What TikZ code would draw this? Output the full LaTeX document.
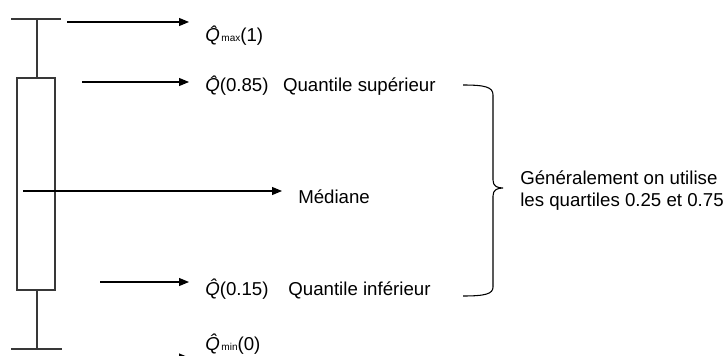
\documentclass[tikz,border=0pt]{standalone}
\usepackage{fontspec}
\setmainfont{Liberation Sans}
\usetikzlibrary{arrows.meta}

\newcommand{\qhat}{{\itshape\accent"02C6 Q}}
\newcommand{\smallsub}[1]{{\fontsize{7.5}{8}\selectfont\,#1}}

\begin{document}
\begin{tikzpicture}[x=0.75pt,y=-0.75pt]
\tikzset{
  boxline/.style={draw=black!78,line width=1.7pt},
  pointer/.style={draw=black,line width=0.8pt,shorten >=12pt,-{Triangle[length=7.5pt,width=6pt]}},
  quantlabel/.style={anchor=base west,inner sep=0pt,font=\fontsize{14}{16}\selectfont},
  bracetext/.style={anchor=base west,inner sep=0pt,align=left,font=\fontsize{14}{16}\selectfont}
}
\useasboundingbox (0,0) rectangle (723,356);
\clip (0,0) rectangle (723,356);
% box plot
\draw[boxline] (11,19) -- (61,19);
\draw[boxline] (37,19) -- (37,78);
\draw[boxline] (17,78) rectangle (55,290);
\draw[boxline] (37,290) -- (37,349);
\draw[boxline] (11,349) -- (62,349);
% labels
\node[quantlabel] (n_qmax) at (205,42) {\qhat\smallsub{max}(1)};
\node[quantlabel] (n_qsup) at (205,92) {\qhat(0.85)\hspace{7pt} Quantile supérieur};
\node[quantlabel] (n_med) at (298,203) {Médiane};
\node[quantlabel] (n_qinf) at (205,295) {\qhat(0.15)\hspace{11pt} Quantile inférieur};
\node[quantlabel] (n_qmin) at (205,350) {\qhat\smallsub{min}(0)};
\node[bracetext] (n_gen) at (520,206) {Généralement on utilise\\les quartiles 0.25 et 0.75};
% arrow tails
\coordinate (s_max) at (67,22);
\coordinate (s_sup) at (82,82);
\coordinate (s_med) at (23,191);
\coordinate (s_inf) at (100,282);
\coordinate (s_min) at (70,357.5);
\draw[pointer] (s_max) -- (s_max -| n_qmax.west);
\draw[pointer] (s_sup) -- (s_sup -| n_qsup.west);
\draw[pointer] (s_med) -- (s_med -| n_med.west);
\draw[pointer] (s_inf) -- (s_inf -| n_qinf.west);
\draw[pointer] (s_min) -- (s_min -| n_qmin.west);
% right brace
\coordinate (b_top) at (463,85);
\coordinate (b_tip) at (503,188);
\coordinate (b_bot) at (463,296);
\draw[line width=0.8pt] (b_top) .. controls (485,85) and (493,87) .. (493,95)
  -- (493,180) .. controls (493,186) and (497,188) .. (b_tip)
  .. controls (497,188) and (493,190) .. (493,196)
  -- (493,287) .. controls (493,294) and (485,296) .. (b_bot);
\end{tikzpicture}
\end{document}
